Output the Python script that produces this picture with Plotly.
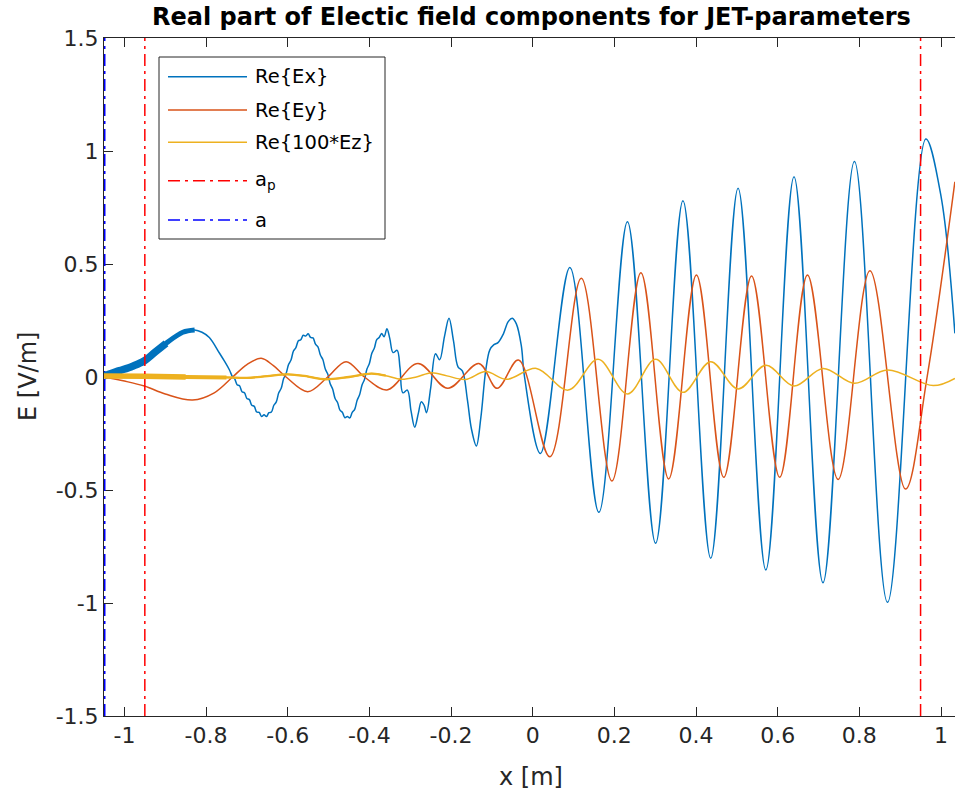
import plotly.graph_objects as go

# ---------------- data ----------------
ex_x = [-1.05, -1.037, -1.012, -0.98, -0.951, -0.925, -0.898, -0.857, -0.828, -0.81, -0.792, -0.767,
        -0.755, -0.743, -0.735,
        -0.730, -0.724, -0.718, -0.712, -0.706, -0.700, -0.694, -0.688, -0.682, -0.676, -0.670, -0.664,
        -0.658, -0.652, -0.646, -0.640, -0.634, -0.628, -0.622, -0.616, -0.610, -0.604, -0.598, -0.592,
        -0.586, -0.580, -0.574, -0.568, -0.562, -0.556, -0.550, -0.544, -0.538, -0.532, -0.526, -0.520,
        -0.514, -0.508, -0.502, -0.496, -0.490, -0.484, -0.478, -0.472, -0.466, -0.460, -0.454, -0.448,
        -0.442, -0.436, -0.430, -0.424, -0.418, -0.412, -0.406, -0.400, -0.394, -0.388, -0.382, -0.376,
        -0.370, -0.364, -0.357, -0.350, -0.342, -0.332, -0.325, -0.318, -0.307, -0.298, -0.289, -0.280,
        -0.273, -0.266, -0.260, -0.250, -0.238, -0.228, -0.216, -0.205, -0.194, -0.183, -0.172, -0.160,
        -0.150, -0.138, -0.127, -0.115, -0.105, -0.095, -0.085, -0.072, -0.060, -0.050, -0.040, -0.028,
        -0.020, 0.019, 0.091, 0.162, 0.232, 0.301, 0.368, 0.436, 0.503, 0.571, 0.640, 0.711, 0.788,
        0.869, 0.963, 1.0, 1.034]
ex_y = [0.004, 0.013, 0.028, 0.048, 0.072, 0.11, 0.149, 0.198, 0.208, 0.198, 0.175, 0.105,
        0.07, 0.032, 0.0,
        -0.008, -0.034, -0.039, -0.065, -0.070, -0.095, -0.100, -0.125, -0.130, -0.155, -0.157, -0.175,
        -0.167, -0.175, -0.158, -0.155, -0.125, -0.110, -0.070, -0.050, -0.007, 0.015, 0.055, 0.075,
        0.115, 0.130, 0.160, 0.165, 0.185, 0.181, 0.191, 0.175, 0.173, 0.145, 0.133, 0.097,
        0.077, 0.035, 0.013, -0.030, -0.053, -0.095, -0.113, -0.147, -0.157, -0.180, -0.175, -0.181,
        -0.157, -0.143, -0.103, -0.079, -0.035, -0.011, 0.035, 0.060, 0.105, 0.127, 0.165, 0.175,
        0.192, 0.178, 0.214, 0.17, 0.108, 0.118, 0.04, -0.07, -0.058, -0.15, -0.222, -0.16,
        -0.11, -0.125, -0.158, -0.05, 0.103, 0.076, 0.18, 0.26, 0.16, 0.045, 0.026, -0.10,
        -0.23, -0.305, -0.18, 0.03, 0.12, 0.143, 0.152, 0.19, 0.245, 0.26, 0.235, 0.14,
        0.0, -0.338, 0.485, -0.599, 0.687, -0.736, 0.78, -0.802, 0.835, -0.854, 0.886, -0.910, 0.953,
        -0.997, 1.053, 0.80, 0.193]

ey_x = [-1.05, -1.0, -0.951, -0.9, -0.833, -0.78, -0.735, -0.7, -0.665, -0.635, -0.604, -0.551, -0.502,
        -0.457, -0.412, -0.357, -0.281, -0.208, -0.132, -0.087, -0.035, 0.042, 0.119, 0.194, 0.265,
        0.333, 0.401, 0.468, 0.536, 0.605, 0.673, 0.748, 0.826, 0.913, 0.966, 1.034]
ey_y = [0.0, -0.018, -0.04, -0.075, -0.102, -0.07, 0.0, 0.055, 0.083, 0.05, 0.0, -0.065, 0.0,
        0.068, 0.0, -0.057, 0.06, -0.05, 0.06, -0.05, 0.075, -0.353, 0.437, -0.46, 0.461,
        -0.451, 0.451, -0.444, 0.447, -0.444, 0.451, -0.453, 0.47, -0.496, 0.0, 0.864]

ez_x = [-1.05, -0.95, -0.85, -0.75, -0.70, -0.65, -0.60, -0.55, -0.51, -0.45, -0.395, -0.36, -0.322,
        -0.285, -0.248, -0.21, -0.165, -0.115, -0.064, 0.009, 0.087, 0.16, 0.232, 0.301, 0.368, 0.436,
        0.503, 0.571, 0.640, 0.711, 0.788, 0.869, 0.981, 1.034]
ez_y = [0.004, 0.003, 0.0, -0.002, -0.004, 0.004, 0.012, 0.002, -0.01, 0.0, 0.015, 0.006, -0.01,
        0.0, 0.019, 0.005, -0.011, 0.024, -0.01, 0.038, -0.058, 0.078, -0.075, 0.078, -0.068, 0.068,
        -0.053, 0.052, -0.04, 0.038, -0.028, 0.031, -0.038, -0.006]

ap_pos = [-0.95, 0.95]
a_pos = [-1.05, 1.05]
y_span = [-1.5, 1.5]

x_ticks = [-1, -0.8, -0.6, -0.4, -0.2, 0, 0.2, 0.4, 0.6, 0.8, 1]
x_tick_text = ["-1", "-0.8", "-0.6", "-0.4", "-0.2", "0", "0.2", "0.4", "0.6", "0.8", "1"]
y_ticks = [-1.5, -1, -0.5, 0, 0.5, 1, 1.5]
y_tick_text = ["-1.5", "-1", "-0.5", "0", "0.5", "1", "1.5"]

legend_labels = ["Re{Ex}", "Re{Ey}", "Re{100*Ez}", "a<sub>p</sub>", "a"]

# ---------------- styles ----------------
C_EX = "#0072BD"
C_EY = "#D95319"
C_EZ = "#EDB120"
C_AP = "#FF0000"
C_A = "#0000FF"
AX = "#262626"
FONT = "DejaVu Sans"
DASHDOT = "12px,5px,3px,5px"
W, H = 955, 802
L, R, T, B = 104, 0, 38, 86
PW, PH = W - L - R, H - T - B


def px2paper(px, py):
    return (px - L) / PW, (H - B - py) / PH


def sub(xs, ys, lim):
    pts = [(a, b) for a, b in zip(xs, ys) if a <= lim]
    return [p[0] for p in pts], [p[1] for p in pts]


fig = go.Figure()

# left/right boundary "a" (drawn first, under the curves)
for xv in a_pos:
    fig.add_trace(go.Scatter(x=[xv, xv], y=y_span, mode="lines",
                             line=dict(color=C_A, width=3, dash=DASHDOT), showlegend=False))

# main curves (Ex, Ey, Ez in plotting order)
fig.add_trace(go.Scatter(x=ex_x, y=ex_y, mode="lines", line=dict(color=C_EX, width=1.5, shape="spline"),
                         showlegend=False))
# dense high-frequency part of Ex drawn as a thicker band
for lim, w in [(-0.87, 7.5), (-0.82, 5)]:
    sx, sy = sub(ex_x, ex_y, lim)
    fig.add_trace(go.Scatter(x=sx, y=sy, mode="lines", line=dict(color=C_EX, width=w, shape="spline"),
                             showlegend=False))
fig.add_trace(go.Scatter(x=ey_x, y=ey_y, mode="lines", line=dict(color=C_EY, width=1.5, shape="spline"),
                         showlegend=False))
fig.add_trace(go.Scatter(x=ez_x, y=ez_y, mode="lines", line=dict(color=C_EZ, width=1.5, shape="spline"),
                         showlegend=False))
for lim, w in [(-0.85, 5.5), (-0.74, 4.0), (-0.35, 2.3)]:
    sx, sy = sub(ez_x, ez_y, lim)
    fig.add_trace(go.Scatter(x=sx, y=sy, mode="lines", line=dict(color=C_EZ, width=w, shape="spline"),
                             showlegend=False))

# plasma boundary a_p
for xv in ap_pos:
    fig.add_trace(go.Scatter(x=[xv, xv], y=y_span, mode="lines",
                             line=dict(color=C_AP, width=1.5, dash=DASHDOT), showlegend=False))

# ---------------- manual legend ----------------
shapes = []
annotations = []
bx0, by1 = px2paper(159, 57)
bx1, by0 = px2paper(385, 239)
shapes.append(dict(type="rect", xref="paper", yref="paper", x0=bx0, x1=bx1, y0=by0, y1=by1,
                   line=dict(color=AX, width=1), fillcolor="white", layer="above"))
leg_rows = [76.7, 110, 142.3, 180.7, 220]
leg_styles = [(C_EX, "solid"), (C_EY, "solid"), (C_EZ, "solid"), (C_AP, DASHDOT), (C_A, DASHDOT)]
for row, (col, dash), lab in zip(leg_rows, leg_styles, legend_labels):
    lx0, ly = px2paper(168, row)
    lx1, _ = px2paper(247, row)
    shapes.append(dict(type="line", xref="paper", yref="paper", x0=lx0, x1=lx1, y0=ly, y1=ly,
                       line=dict(color=col, width=1.5, dash=dash), layer="above"))
    tx, _ = px2paper(253, row)
    annotations.append(dict(text=lab, xref="paper", yref="paper", x=tx, y=ly, xanchor="left",
                            yanchor="middle", showarrow=False,
                            font=dict(family=FONT, size=19.5, color="black")))

# title & axis labels
tx, ty = px2paper(531, 17)
annotations.append(dict(text="<b>Real part of Electic field components for JET-parameters</b>",
                        xref="paper", yref="paper", x=tx, y=ty, xanchor="center", yanchor="middle",
                        showarrow=False, font=dict(family=FONT, size=24, color="black")))
tx, ty = px2paper(531, 777)
annotations.append(dict(text="x [m]", xref="paper", yref="paper", x=tx, y=ty, xanchor="center",
                        yanchor="middle", showarrow=False, font=dict(family=FONT, size=24, color=AX)))
tx, ty = px2paper(28, 377)
annotations.append(dict(text="E [V/m]", xref="paper", yref="paper", x=tx, y=ty, xanchor="center",
                        yanchor="middle", textangle=-90, showarrow=False,
                        font=dict(family=FONT, size=24, color=AX)))

fig.update_layout(
    width=W, height=H, margin=dict(l=L, r=R, t=T, b=B, pad=0),
    paper_bgcolor="white", plot_bgcolor="white",
    shapes=shapes, annotations=annotations, showlegend=False,
    font=dict(family=FONT, color=AX),
    xaxis=dict(range=[-1.05, 1.0343], tickvals=x_ticks, ticktext=x_tick_text, ticks="inside", ticklen=9,
               tickcolor=AX, showline=True, linecolor=AX, linewidth=1, mirror="ticks", showgrid=False,
               zeroline=False, tickfont=dict(family=FONT, size=22, color=AX), layer="below traces"),
    yaxis=dict(range=[-1.5, 1.5], tickvals=y_ticks, ticktext=y_tick_text, ticks="inside", ticklen=9,
               tickcolor=AX, showline=True, linecolor=AX, linewidth=1, mirror=False, showgrid=False,
               zeroline=False, tickfont=dict(family=FONT, size=22, color=AX), layer="below traces"),
)

fig.write_html("out.html")
